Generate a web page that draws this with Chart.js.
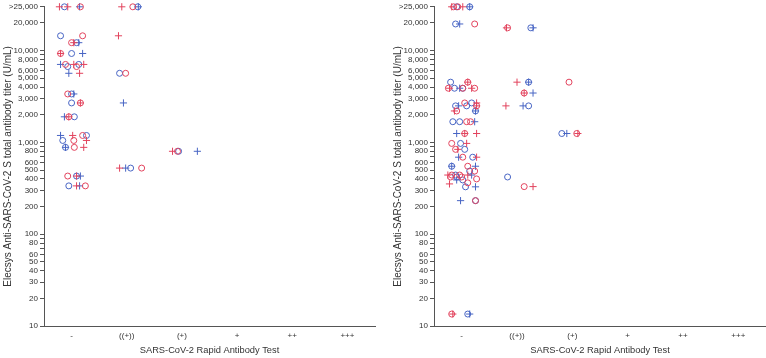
<!DOCTYPE html>
<html>
<head>
<meta charset="utf-8">
<script src="https://cdn.jsdelivr.net/npm/chart.js@4/dist/chart.umd.min.js"></script>
<style>
  html, body { margin: 0; padding: 0; background: #fff; }
  #wrap { position: relative; width: 766px; height: 358px; overflow: hidden; }
  #c1 { position: absolute; left: 0; top: 0; }
  #c2 { position: absolute; left: 390px; top: 0; }
</style>
</head>
<body>
<div id="wrap">
  <canvas id="c1" width="383" height="358"></canvas>
  <canvas id="c2" width="376" height="358"></canvas>
</div>
<script>
// Categories of the rapid antibody test (x axis)
const categories = ['-', '((+))', '(+)', '+', '++', '+++'];
// Y-axis tick values (log scale); 30000 is the ">25,000" bucket
const yTickValues = [10, 20, 30, 40, 50, 60, 70, 80, 90, 100, 200, 300, 400, 500, 600, 700, 800, 900,
  1000, 2000, 3000, 4000, 5000, 6000, 7000, 8000, 9000, 10000, 20000, 30000];
const yUnlabeled = [70, 90, 700, 900, 7000, 9000];
const yTopLabel = '>25,000';

// Each point: [category index + jitter, titer U/mL]
// Left panel
const leftRedCircle = [[0.16,30000],[1.11,30000],[0.2,14500],[0.0,12200],[-0.2,9300],[-0.11,7070],[0.09,6700],
  [0.98,5660],[-0.07,3370],[0.16,2690],[-0.05,1900],[0.2,1190],[0.04,1050],[0.05,883],[-0.07,430],[0.25,336],
  [1.27,525],[1.92,800]];
const leftRedPlus = [[-0.22,30000],[-0.07,30000],[0.91,30000],[0.85,14500],[0.04,12200],[-0.2,9300],[0.04,7070],
  [0.22,7070],[0.145,5660],[0.16,2690],[-0.05,1900],[0.02,1190],[0.27,1050],[0.22,883],[0.09,430],[0.09,336],
  [0.87,525],[1.83,800]];
const leftBlueCircle = [[-0.13,30000],[1.2,30000],[-0.2,14500],[0.09,12200],[0.0,9300],[0.13,7070],[-0.07,6700],
  [0.87,5660],[0.0,3370],[0.0,2690],[0.05,1900],[0.27,1190],[-0.16,1050],[-0.11,883],[0.09,430],[-0.05,336],
  [1.07,525],[1.94,800]];
const leftBluePlus = [[0.145,30000],[1.21,30000],[0.13,12200],[0.2,9300],[-0.2,7070],[-0.05,5660],[0.04,3370],
  [0.94,2690],[-0.13,1900],[-0.2,1190],[-0.11,883],[0.16,430],[0.145,336],[0.98,525],[2.28,800]];

// Right panel
const rightRedCircle = [[-0.145,30000],[-0.07,30000],[0.235,19500],[0.83,17700],[0.11,4530],[1.94,4530],
  [-0.24,3890],[0.02,3890],[0.235,3890],[1.13,3450],[0.055,2690],[0.27,2500],[-0.09,2200],[0.09,1680],[0.16,1680],
  [0.055,1250],[2.08,1250],[-0.18,975],[-0.11,840],[0.02,690],[0.11,550],[0.235,487],[-0.18,441],[-0.036,441],
  [-0.2,420],[0.0,420],[0.27,400],[0.11,363],[1.13,330],[0.25,232],[-0.18,13.5]];
const rightRedPlus = [[-0.18,30000],[0.02,30000],[0.81,17700],[0.11,4530],[1.0,4530],[0.18,3890],[-0.22,3890],
  [1.13,3450],[0.27,2690],[0.27,2500],[0.8,2500],[-0.13,2200],[0.055,1250],[0.27,1250],[2.1,1250],[0.09,975],
  [-0.07,840],[0.27,690],[-0.25,441],[0.11,441],[-0.22,353],[1.29,330],[-0.16,13.5]];
const rightBlueCircle = [[-0.09,30000],[0.145,30000],[-0.11,19500],[1.25,17700],[-0.2,4530],[1.21,4530],
  [-0.13,3890],[0.02,3890],[0.18,2690],[-0.11,2500],[0.09,2500],[1.21,2500],[0.25,2200],[-0.16,1680],[-0.036,1680],
  [1.81,1250],[-0.02,975],[0.055,840],[0.2,690],[-0.18,550],[0.145,487],[-0.11,441],[-0.09,420],[0.83,420],
  [0.02,390],[0.07,328],[0.25,232],[0.11,13.5]];
const rightBluePlus = [[0.145,30000],[-0.036,19500],[1.29,17700],[1.21,4530],[-0.036,3890],[1.29,3450],
  [-0.055,2500],[1.11,2500],[0.25,2200],[0.235,1680],[-0.09,1250],[1.9,1250],[-0.055,690],[-0.18,550],[0.25,550],
  [0.18,441],[-0.09,390],[0.25,328],[-0.02,232],[0.145,13.5]];

const RED = '#e2435d';
const BLUE = '#4865c4';
const AXIS = '#555555';
const TEXT = '#333333';
const FONT = 'Liberation Sans, Arial, sans-serif';

function toXY(arr) { return arr.map(p => ({ x: p[0], y: p[1] })); }

function ds(label, arr, color, style) {
  return {
    label, data: toXY(arr),
    pointStyle: style,
    pointRadius: style === 'circle' ? 3 : 3.6,
    pointBorderWidth: 1,
    pointBorderColor: color,
    pointBackgroundColor: 'rgba(0,0,0,0)',
    borderColor: color,
    backgroundColor: 'rgba(0,0,0,0)',
    showLine: false,
    clip: false
  };
}

function makeChart(id, sets, padRight) {
  return new Chart(document.getElementById(id), {
    type: 'scatter',
    data: { datasets: sets },
    options: {
      responsive: false,
      animation: false,
      events: [],
      layout: { autoPadding: false, padding: { top: 3, right: padRight, left: 0, bottom: 0 } },
      plugins: { legend: { display: false }, tooltip: { enabled: false } },
      scales: {
        x: {
          type: 'linear', min: -0.5, max: 5.5,
          afterBuildTicks: s => { s.ticks = categories.map((c, i) => ({ value: i })); },
          afterFit: s => { s.height = 32; },
          ticks: {
            callback: v => categories[v] ?? '',
            color: TEXT, font: { family: FONT, size: 8 }, padding: 5, maxRotation: 0, autoSkip: false
          },
          grid: { display: true, drawOnChartArea: false, drawTicks: false, color: AXIS },
          border: { display: true, color: AXIS, width: 1 },
          title: { display: true, text: 'SARS-CoV-2 Rapid Antibody Test', color: TEXT,
                   font: { family: FONT, size: 9.3 }, padding: { top: 0, bottom: 2 } }
        },
        y: {
          type: 'logarithmic', min: 10, max: 30000,
          afterBuildTicks: s => { s.ticks = yTickValues.map(v => ({ value: v })); },
          afterFit: s => { s.width = 44; },
          ticks: {
            callback: v => v === 30000 ? yTopLabel : (yUnlabeled.includes(v) ? '' : v.toLocaleString('en-US')),
            color: TEXT, font: { family: FONT, size: 8 }, padding: 2, autoSkip: false
          },
          grid: { display: true, drawOnChartArea: false, drawTicks: true, tickLength: 4, color: AXIS },
          border: { display: true, color: AXIS, width: 1 },
          title: { display: true, text: 'Elecsys Anti-SARS-CoV-2 S total antibody titer (U/mL)', color: TEXT,
                   font: { family: FONT, size: 10 }, padding: { top: 2, bottom: 0 } }
        }
      }
    }
  });
}

makeChart('c1', [
  ds('Red circle', leftRedCircle, RED, 'circle'),
  ds('Red plus', leftRedPlus, RED, 'cross'),
  ds('Blue circle', leftBlueCircle, BLUE, 'circle'),
  ds('Blue plus', leftBluePlus, BLUE, 'cross')
], 8);

makeChart('c2', [
  ds('Red circle', rightRedCircle, RED, 'circle'),
  ds('Red plus', rightRedPlus, RED, 'cross'),
  ds('Blue circle', rightBlueCircle, BLUE, 'circle'),
  ds('Blue plus', rightBluePlus, BLUE, 'cross')
], 0);
</script>
</body>
</html>
